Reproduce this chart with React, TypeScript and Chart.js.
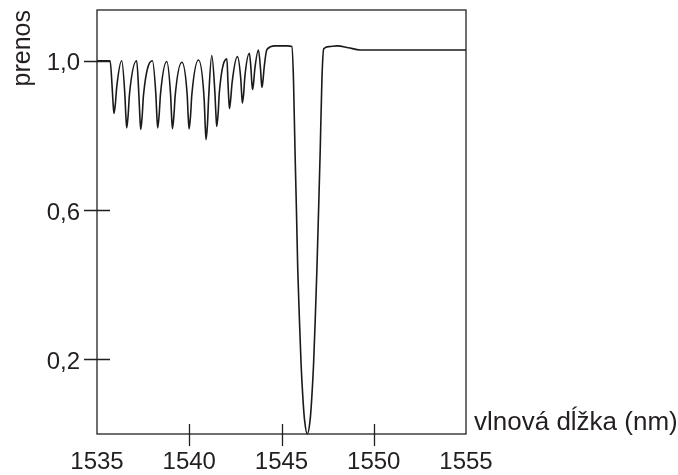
import React, { useEffect, useRef } from 'react';
import { Chart, registerables } from 'chart.js';

Chart.register(...registerables);

// wavelength (nm)
const wavelengthNm = [
  1535.0, 1535.71,
  1535.82, 1535.87, 1535.92, 1536.0, 1536.07, 1536.34,
  1536.51, 1536.56, 1536.61, 1536.69, 1536.76, 1537.15,
  1537.27, 1537.32, 1537.37, 1537.45, 1537.52, 1538.0,
  1538.19, 1538.24, 1538.29, 1538.37, 1538.44, 1538.78,
  1538.99, 1539.04, 1539.09, 1539.17, 1539.24, 1539.6,
  1539.89, 1539.94, 1539.99, 1540.07, 1540.14, 1540.5,
  1540.81, 1540.86, 1540.91, 1540.99, 1541.05, 1541.22,
  1541.39, 1541.44, 1541.49, 1541.57, 1541.63, 1542.04,
  1542.1, 1542.14, 1542.18, 1542.25, 1542.32, 1542.61,
  1542.79, 1542.84, 1542.88, 1542.95, 1543.01, 1543.26,
  1543.35, 1543.39, 1543.43, 1543.49, 1543.55, 1543.75,
  1543.86, 1543.9, 1543.94, 1544.0, 1544.06, 1544.21,
  1544.66, 1545.3, 1545.56,
  1545.65, 1545.73, 1545.81, 1545.88, 1545.97, 1546.06, 1546.16, 1546.25,
  1546.4,
  1546.55, 1546.64, 1546.74, 1546.83, 1546.92, 1547.01, 1547.1, 1547.19,
  1547.29, 1547.57, 1548.02, 1548.62, 1549.27, 1552.0, 1555.0,
];
// transmission (prenos)
const transmission = [
  1.0, 1.0,
  0.93, 0.887, 0.859, 0.887, 0.93, 1.0,
  0.91, 0.856, 0.82, 0.856, 0.91, 1.0,
  0.908, 0.853, 0.816, 0.853, 0.908, 1.0,
  0.91, 0.856, 0.82, 0.856, 0.91, 0.998,
  0.908, 0.854, 0.818, 0.854, 0.908, 0.996,
  0.907, 0.853, 0.817, 0.853, 0.909, 1.002,
  0.895, 0.832, 0.789, 0.832, 0.9, 1.014,
  0.915, 0.862, 0.824, 0.862, 0.915, 1.005,
  0.94, 0.899, 0.872, 0.899, 0.94, 1.011,
  0.953, 0.912, 0.887, 0.912, 0.955, 1.02,
  0.975, 0.942, 0.923, 0.942, 0.976, 1.029,
  0.98, 0.949, 0.929, 0.949, 0.982, 1.03,
  1.04, 1.04, 1.038,
  0.949, 0.763, 0.6, 0.443, 0.309, 0.189, 0.096, 0.037,
  0.0,
  0.037, 0.096, 0.189, 0.309, 0.443, 0.6, 0.763, 0.949,
  1.032, 1.038, 1.04, 1.035, 1.029, 1.029, 1.029,
];

const xTickValues = [1535, 1540, 1545, 1550, 1555];
const xTickMarks = [1540, 1545, 1550];
const yTickValues = [0.2, 0.6, 1.0];
const yAxisTitle = 'prenos';
const xAxisTitle = 'vlnová dĺžka (nm)';

const INK = '#231f20';
const FONT = "'Liberation Sans', Arial, Helvetica, sans-serif";

export default function App() {
  const ref = useRef<HTMLCanvasElement>(null);

  useEffect(() => {
    const canvas = ref.current;
    if (!canvas) return;

    const framePlugin = {
      id: 'frame',
      afterDraw(chart: any) {
        const { ctx, chartArea: a, scales } = chart;
        ctx.save();
        ctx.strokeStyle = INK;
        ctx.lineWidth = 1.3;
        ctx.strokeRect(a.left, a.top, a.right - a.left, a.bottom - a.top);
        ctx.beginPath();
        for (const v of yTickValues) {
          const y = Math.round(scales.y.getPixelForValue(v)) + 0.5;
          ctx.moveTo(a.left - 13, y);
          ctx.lineTo(a.left + 13, y);
        }
        for (const v of xTickMarks) {
          const x = Math.round(scales.x.getPixelForValue(v)) + 0.5;
          ctx.moveTo(x, a.bottom - 10);
          ctx.lineTo(x, a.bottom + 12);
        }
        ctx.stroke();

        ctx.fillStyle = INK;
        ctx.font = `26px ${FONT}`;
        ctx.textAlign = 'left';
        ctx.textBaseline = 'alphabetic';
        ctx.fillText(xAxisTitle, a.right + 8, a.bottom - 4);

        ctx.translate(30, a.top);
        ctx.rotate(-Math.PI / 2);
        ctx.font = `25px ${FONT}`;
        ctx.textAlign = 'right';
        ctx.fillText(yAxisTitle, 0, 0);
        ctx.restore();
      },
    };

    const chart = new Chart(canvas, {
      type: 'line',
      data: {
        datasets: [
          {
            data: wavelengthNm.map((x, i) => ({ x, y: transmission[i] })),
            borderColor: '#1a1a1a',
            borderWidth: 1.6,
            pointRadius: 0,
            cubicInterpolationMode: 'monotone',
            fill: false,
            clip: 4,
          } as any,
        ],
      },
      options: {
        responsive: false,
        animation: false,
        devicePixelRatio: 1,
        layout: { padding: { top: 10, right: 212, left: 0, bottom: 0 } },
        plugins: { legend: { display: false }, tooltip: { enabled: false } },
        scales: {
          x: {
            type: 'linear',
            min: 1535,
            max: 1555,
            grid: { display: false, drawTicks: false },
            border: { display: false },
            afterBuildTicks: (s: any) => {
              s.ticks = xTickValues.map((v) => ({ value: v }));
            },
            ticks: {
              font: { family: FONT, size: 24 },
              color: INK,
              padding: 14,
              maxRotation: 0,
              autoSkip: false,
              callback: (v: any) => String(v),
            },
            afterFit: (s: any) => {
              s.height = 41;
              s.paddingLeft = 0;
              s.paddingRight = 0;
            },
          },
          y: {
            type: 'linear',
            min: 0,
            max: 1.136,
            grid: { display: false, drawTicks: false },
            border: { display: false },
            afterBuildTicks: (s: any) => {
              s.ticks = yTickValues.map((v) => ({ value: v }));
            },
            ticks: {
              font: { family: FONT, size: 24 },
              color: INK,
              padding: 17,
              labelOffset: 3,
              autoSkip: false,
              callback: (v: any) => Number(v).toFixed(1).replace('.', ','),
            },
            afterFit: (s: any) => {
              s.width = 97;
              s.paddingTop = 0;
              s.paddingBottom = 0;
            },
          },
        },
      } as any,
      plugins: [framePlugin],
    });

    return () => chart.destroy();
  }, []);

  return (
    <div style={{ position: 'fixed', left: 0, top: 0, width: 678, height: 475, background: '#fff' }}>
      <canvas ref={ref} width={678} height={475} style={{ display: 'block', width: 678, height: 475 }} />
    </div>
  );
}
